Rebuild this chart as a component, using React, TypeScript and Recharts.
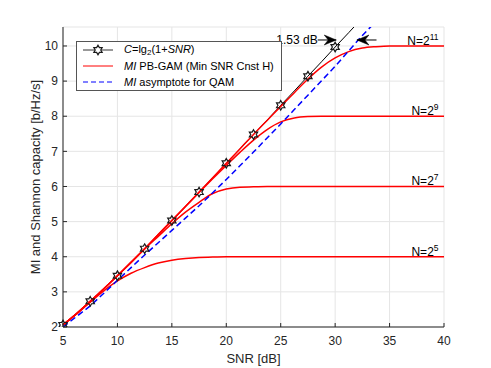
import React from 'react';
import {
  LineChart,
  Line,
  XAxis,
  YAxis,
  CartesianGrid,
  ReferenceDot,
  ReferenceLine,
} from 'recharts';

const FONT = '"Liberation Sans", Arial, Helvetica, sans-serif';
const AX = '#262626';

// SNR grid [dB]
const snrDb = [
  5, 6.25, 7.5, 8.75, 10, 11.25, 12.5, 13.75, 15, 16.25, 17.5, 18.75, 20, 21.25, 22.5,
  23.75, 25, 26.25, 27.5, 28.75, 30, 31.25, 32.5, 33.75, 35, 36.25, 37.5, 38.75, 40,
];
// C = lg2(1+SNR)
const shannon = [
  2.06, 2.38, 2.73, 3.09, 3.46, 3.84, 4.23, 4.63, 5.03, 5.43, 5.84, 6.25, 6.66, 7.07, 7.48,
  7.89, 8.31, 8.72, 9.14, 9.55, 9.97, 10.38, 10.8, null, null, null, null, null, null,
];
// MI asymptote for QAM
const asymptote = [
  2.0, 2.3, 2.6, 2.96, 3.33, 3.69, 4.05, 4.4, 4.75, 5.1, 5.45, 5.82, 6.2, 6.59, 6.98,
  7.38, 7.78, 8.19, 8.6, 9.01, 9.42, 9.86, 10.3, 10.7, null, null, null, null, null,
];
// MI PB-GAM for N = 2^5, 2^7, 2^9, 2^11
const mi5 = [
  2.06, 2.37, 2.71, 3.03, 3.31, 3.53, 3.69, 3.82, 3.9, 3.95, 3.98, 3.99, 4, 4, 4,
  4, 4, 4, 4, 4, 4, 4, 4, 4, 4, 4, 4, 4, 4,
];
const mi7 = [
  2.06, 2.38, 2.73, 3.09, 3.46, 3.84, 4.22, 4.58, 4.94, 5.27, 5.55, 5.8, 5.93, 5.98, 5.99,
  6, 6, 6, 6, 6, 6, 6, 6, 6, 6, 6, 6, 6, 6,
];
const mi9 = [
  2.06, 2.38, 2.73, 3.09, 3.46, 3.84, 4.23, 4.63, 5.03, 5.43, 5.83, 6.22, 6.6, 6.97, 7.32,
  7.62, 7.84, 7.95, 7.99, 8, 8, 8, 8, 8, 8, 8, 8, 8, 8,
];
const mi11 = [
  2.06, 2.38, 2.73, 3.09, 3.46, 3.84, 4.23, 4.63, 5.03, 5.43, 5.84, 6.25, 6.66, 7.07, 7.48,
  7.88, 8.28, 8.67, 9.06, 9.4, 9.66, 9.84, 9.94, 9.98, 10, 10, 10, 10, 10,
];

const xTicks = [5, 10, 15, 20, 25, 30, 35, 40];
const yTicks = [2, 3, 4, 5, 6, 7, 8, 9, 10];

// N= labels: exponent and level
const nExps = ['5', '7', '9', '11'];
const nLevels = [4, 6, 8, 10];

// 1.53 dB gap annotation
const gapY = 10.17;
const gapLeftArrow = [28.4, 30.1];
const gapRightArrow = [33.8, 32.0];

const data = snrDb.map((s, i) => ({
  snr: s,
  shannon: shannon[i],
  asym: asymptote[i],
  n5: mi5[i],
  n7: mi7[i],
  n9: mi9[i],
  n11: mi11[i],
}));

function hexagram(cx: number, cy: number, R = 4.8) {
  const r = R / Math.sqrt(3);
  const pts: string[] = [];
  for (let k = 0; k < 12; k++) {
    const a = (Math.PI / 6) * k - Math.PI / 2;
    const rad = k % 2 === 0 ? R : r;
    pts.push(`${cx + rad * Math.cos(a)},${cy + rad * Math.sin(a)}`);
  }
  return pts.join(' ');
}

const StarDot = (props: any) => {
  const { cx, cy, payload, index } = props;
  if (cx == null || cy == null || payload.snr % 2.5 !== 0 || payload.snr > 30) {
    return <g key={`s${index}`} />;
  }
  return (
    <polygon
      key={`s${index}`}
      points={hexagram(cx, cy)}
      fill="none"
      stroke="#1a1a1a"
      strokeWidth={1.2}
    />
  );
};

const BottomTick = ({ x, y, payload }: any) => (
  <g>
    <line x1={x} x2={x} y1={y} y2={y - 4} stroke={AX} />
    <text x={x} y={y + 18} textAnchor="middle" fontSize={12} fill={AX} fontFamily={FONT}>
      {payload.value}
    </text>
  </g>
);
const LeftTick = ({ x, y, payload }: any) => (
  <g>
    <line x1={x} x2={x + 4} y1={y} y2={y} stroke={AX} />
    <text x={x - 5} y={y} dy="0.35em" textAnchor="end" fontSize={12} fill={AX} fontFamily={FONT}>
      {payload.value}
    </text>
  </g>
);
const TopTick = ({ x, y }: any) => <line x1={x} x2={x} y1={y} y2={y + 4} stroke={AX} />;
const RightTick = ({ x, y }: any) => <line x1={x} x2={x - 4} y1={y} y2={y} stroke={AX} />;

const ArrowHead = (dir: number) => (props: any) => {
  const { cx, cy } = props;
  const d = `M${cx},${cy} L${cx - dir * 12},${cy - 5} L${cx - dir * 8},${cy} L${cx - dir * 12},${cy + 5} Z`;
  return <path d={d} fill="#000" stroke="#000" strokeWidth={0.5} />;
};

const NLabel = (exp: string) => (props: any) => {
  const { cx, cy } = props;
  return (
    <text x={cx} y={cy - 1} textAnchor="end" fontSize={12} fill="#000" fontFamily={FONT}>
      N=2<tspan dy={-5} fontSize={8.5}>{exp}</tspan>
    </text>
  );
};

const GapText = (props: any) => {
  const { cx, cy } = props;
  return (
    <text x={cx} y={cy} dy="0.35em" textAnchor="end" fontSize={12} fill="#000" fontFamily={FONT}>
      1.53 dB
    </text>
  );
};

const legendRow: React.CSSProperties = {
  position: 'absolute',
  left: 0,
  height: 14,
  display: 'flex',
  alignItems: 'center',
  fontSize: 11,
  color: '#000',
  whiteSpace: 'nowrap',
};

function LegendBox() {
  return (
    <div
      style={{
        position: 'absolute',
        left: 76,
        top: 41,
        width: 206,
        height: 50,
        background: '#fff',
        border: '1px solid #555',
        boxSizing: 'border-box',
        fontFamily: FONT,
      }}
    >
      <div style={{ ...legendRow, top: 1 }}>
        <svg width={47} height={14}>
          <line x1={6} x2={36} y1={7} y2={7} stroke="#333" strokeWidth={1} />
          <polygon points={hexagram(21, 7)} fill="#fff" stroke="#1a1a1a" strokeWidth={1.2} />
        </svg>
        <span>
          <i>C</i>=lg<sub style={{ fontSize: 8, verticalAlign: -2 }}>2</sub>(1+<i>SNR</i>)
        </span>
      </div>
      <div style={{ ...legendRow, top: 17 }}>
        <svg width={47} height={14}>
          <line x1={6} x2={36} y1={7} y2={7} stroke="#ff0000" strokeWidth={1} />
        </svg>
        <span>
          <i>MI</i> PB-GAM (Min SNR Cnst H)
        </span>
      </div>
      <div style={{ ...legendRow, top: 33 }}>
        <svg width={47} height={14}>
          <line x1={6} x2={36} y1={7} y2={7} stroke="#0000ff" strokeWidth={1} strokeDasharray="5 3" />
        </svg>
        <span>
          <i>MI</i> asymptote for QAM
        </span>
      </div>
    </div>
  );
}

export default function App() {
  return (
    <div
      style={{
        position: 'absolute',
        left: 0,
        top: 0,
        width: 491,
        height: 368,
        background: '#fff',
        fontFamily: FONT,
      }}
    >
      <LineChart width={491} height={368} data={data} margin={{ top: 27, right: 47, left: 0, bottom: 0 }}>
        <CartesianGrid stroke="#e5e5e5" strokeWidth={1} />
        <XAxis
          dataKey="snr"
          type="number"
          domain={[5, 40]}
          ticks={xTicks}
          height={41}
          tickSize={0}
          tickMargin={0}
          tickLine={false}
          axisLine={{ stroke: AX }}
          tick={BottomTick}
          interval={0}
          label={{ value: 'SNR [dB]', position: 'insideBottom', offset: 5, fontSize: 13, fill: AX, fontFamily: FONT }}
        />
        <XAxis
          xAxisId="top"
          orientation="top"
          dataKey="snr"
          type="number"
          domain={[5, 40]}
          ticks={xTicks}
          height={0}
          tickSize={0}
          tickMargin={0}
          tickLine={false}
          axisLine={{ stroke: AX }}
          tick={TopTick}
          interval={0}
        />
        <YAxis
          type="number"
          domain={[2, 10.54]}
          ticks={yTicks}
          allowDataOverflow
          width={63}
          tickSize={0}
          tickMargin={0}
          tickLine={false}
          axisLine={{ stroke: AX }}
          tick={LeftTick}
          interval={0}
          label={{
            value: 'MI and Shannon capacity [b/Hz/s]',
            angle: -90,
            position: 'center',
            dx: 4,
            fontSize: 13,
            fill: AX,
            fontFamily: FONT,
          }}
        />
        <YAxis
          yAxisId="right"
          orientation="right"
          type="number"
          domain={[2, 10.54]}
          ticks={yTicks}
          allowDataOverflow
          width={0}
          tickSize={0}
          tickMargin={0}
          tickLine={false}
          axisLine={{ stroke: AX }}
          tick={RightTick}
          interval={0}
        />
        <Line dataKey="shannon" stroke="#000" strokeWidth={1} dot={false} isAnimationActive={false} />
        <Line dataKey="n5" stroke="#ff0000" strokeWidth={1.5} dot={false} type="monotone" isAnimationActive={false} />
        <Line dataKey="n7" stroke="#ff0000" strokeWidth={1.5} dot={false} type="monotone" isAnimationActive={false} />
        <Line dataKey="n9" stroke="#ff0000" strokeWidth={1.5} dot={false} type="monotone" isAnimationActive={false} />
        <Line dataKey="n11" stroke="#ff0000" strokeWidth={1.5} dot={false} type="monotone" isAnimationActive={false} />
        <Line
          dataKey="asym"
          stroke="#0000ff"
          strokeWidth={1.5}
          strokeDasharray="6 3.5"
          dot={false}
          isAnimationActive={false}
        />
        <Line dataKey="shannon" stroke="none" dot={StarDot} activeDot={false} isAnimationActive={false} />
        <ReferenceLine
          segment={[
            { x: gapLeftArrow[0], y: gapY },
            { x: gapLeftArrow[1], y: gapY },
          ]}
          stroke="#000"
          strokeWidth={1}
        />
        <ReferenceLine
          segment={[
            { x: gapRightArrow[0], y: gapY },
            { x: gapRightArrow[1], y: gapY },
          ]}
          stroke="#000"
          strokeWidth={1}
        />
        <ReferenceDot x={gapLeftArrow[1]} y={gapY} r={0} shape={ArrowHead(1)} />
        <ReferenceDot x={gapRightArrow[1]} y={gapY} r={0} shape={ArrowHead(-1)} />
        <ReferenceDot x={gapLeftArrow[0]} y={gapY} r={0} shape={GapText} />
        {nExps.map((e, i) => (
          <ReferenceDot key={e} x={39.5} y={nLevels[i]} r={0} shape={NLabel(e)} />
        ))}
      </LineChart>
      <LegendBox />
    </div>
  );
}
